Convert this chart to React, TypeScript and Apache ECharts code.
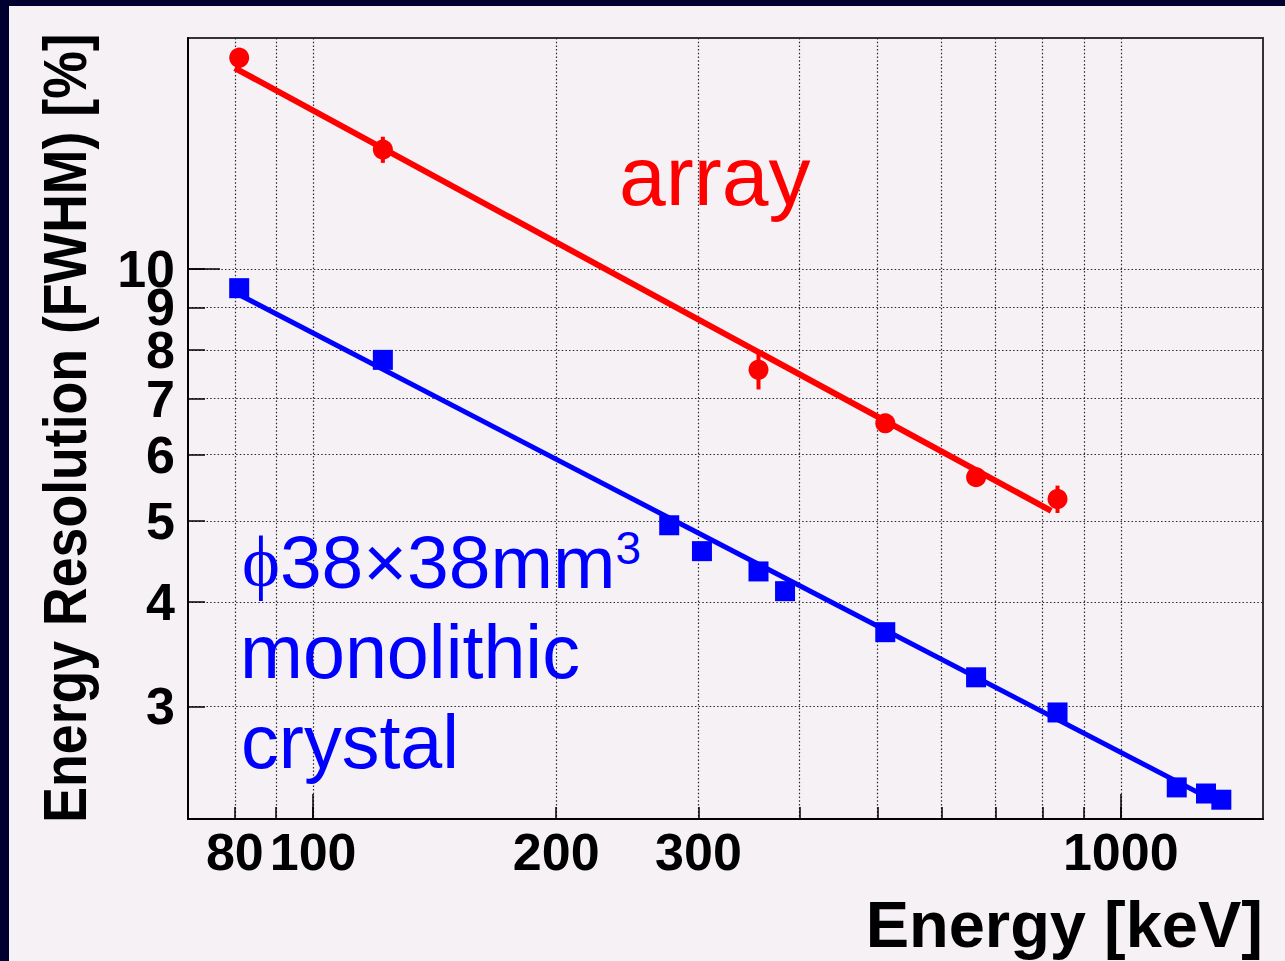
import React, { useEffect, useRef } from "react";
import * as echarts from "echarts";

// Measured energy resolution of the pixelated array (red circles, with errors)
const arrayEnergy = [81, 122, 356, 511, 662, 835];
const arrayResolution = [17.9, 13.9, 7.58, 6.54, 5.64, 5.31];
const arrayError = [0.5, 0.5, 0.4, 0.15, 0.12, 0.2];

// Measured energy resolution of the monolithic crystal (blue squares)
const crystalEnergy = [81, 122, 276, 303, 356, 384, 511, 662, 835, 1173, 1275, 1332];
const crystalResolution = [9.49, 7.79, 4.94, 4.6, 4.35, 4.12, 3.68, 3.25, 2.95, 2.4, 2.36, 2.32];

// Power-law fit curves (end points; straight on log-log axes)
const arrayFitEnergy = [80, 820];
const arrayFitResolution = [17.4, 5.14];
const crystalFitEnergy = [80, 1275];
const crystalFitResolution = [9.38, 2.34];

// Axis ranges and tick positions
const energyRange = [70, 1500];
const resolutionRange = [2.2, 18.9];
const energyTicks = [80, 90, 100, 200, 300, 400, 500, 600, 700, 800, 900, 1000];
const energyMajorTicks = [100, 1000];
const energyLabels = [80, 100, 200, 300, 1000];
const resolutionTicks = [3, 4, 5, 6, 7, 8, 9, 10];
const resolutionMajorTicks = [10];
// "9" sits on the second (major-tick) axis so the crowded 8/9/10 labels all stay visible
const resolutionLabels = [3, 4, 5, 6, 7, 8, 10];
const resolutionExtraLabels = [9];

const RED = "#ff0000";
const BLUE = "#0000ff";
const BG = "#f5f1f5";
const FRAME = "#000030";
const SANS = "'Liberation Sans', Arial, Helvetica, sans-serif";
const SERIF = "'Liberation Serif', 'Times New Roman', serif";

const lg = (v: number) => Math.log10(v);
const pairs = (xs: number[], ys: number[]) => xs.map((x, i) => [lg(x), lg(ys[i])]);
const fmt = (v: number) => String(Math.round(Math.pow(10, v)));

export default function App() {
  const ref = useRef<HTMLDivElement>(null);

  useEffect(() => {
    if (!ref.current) return;
    const chart = echarts.init(ref.current, undefined, { renderer: "svg" });

    const gridLine = { show: true, lineStyle: { color: "#2a2a2a", width: 1.2, type: [1.5, 2.2] as any } };
    const tickLabel = {
      color: "#000",
      fontFamily: SANS,
      fontWeight: "bold" as const,
      fontSize: 52,
      lineHeight: 36,
      formatter: fmt,
    };

    const option: any = {
      animation: false,
      backgroundColor: BG,
      grid: {
        left: 188,
        top: 38,
        width: 1075,
        height: 781,
        show: true,
        borderColor: "#333",
        borderWidth: 2,
        backgroundColor: "transparent",
        containLabel: false,
        outerBoundsMode: "none",
      },
      xAxis: [
        {
          type: "value",
          position: "bottom",
          min: lg(energyRange[0]),
          max: lg(energyRange[1]),
          axisLine: { show: true, onZero: false, lineStyle: { color: "#000", width: 2 } },
          axisTick: {
            show: true,
            inside: true,
            length: 12,
            customValues: energyTicks.map(lg),
            lineStyle: { color: "#000", width: 1.5 },
          },
          axisLabel: { ...tickLabel, margin: 15, customValues: energyLabels.map(lg) },
          splitLine: gridLine,
        },
        {
          type: "value",
          position: "bottom",
          min: lg(energyRange[0]),
          max: lg(energyRange[1]),
          axisLine: { show: false },
          axisTick: {
            show: true,
            inside: true,
            length: 25,
            customValues: energyMajorTicks.map(lg),
            lineStyle: { color: "#000", width: 1.5 },
          },
          axisLabel: { show: false },
          splitLine: { show: false },
        },
      ],
      yAxis: [
        {
          type: "value",
          position: "left",
          min: lg(resolutionRange[0]),
          max: lg(resolutionRange[1]),
          axisLine: { show: true, onZero: false, lineStyle: { color: "#000", width: 2 } },
          axisTick: {
            show: true,
            inside: true,
            length: 17,
            customValues: resolutionTicks.map(lg),
            lineStyle: { color: "#000", width: 1.5 },
          },
          axisLabel: { ...tickLabel, margin: 13, customValues: resolutionLabels.map(lg) },
          splitLine: gridLine,
        },
        {
          type: "value",
          position: "left",
          min: lg(resolutionRange[0]),
          max: lg(resolutionRange[1]),
          axisLine: { show: false },
          axisTick: {
            show: true,
            inside: true,
            length: 32,
            customValues: resolutionMajorTicks.map(lg),
            lineStyle: { color: "#000", width: 1.5 },
          },
          axisLabel: { ...tickLabel, margin: 13, customValues: resolutionExtraLabels.map(lg) },
          splitLine: { show: false },
        },
      ],
      series: [
        {
          name: "array fit",
          type: "line",
          data: pairs(arrayFitEnergy, arrayFitResolution),
          showSymbol: false,
          lineStyle: { color: RED, width: 6 },
          z: 3,
        },
        {
          name: "crystal fit",
          type: "line",
          data: pairs(crystalFitEnergy, crystalFitResolution),
          showSymbol: false,
          lineStyle: { color: BLUE, width: 5 },
          z: 3,
        },
        {
          name: "array errors",
          type: "custom",
          data: arrayEnergy.map((e, i) => [
            lg(e),
            lg(arrayResolution[i] - arrayError[i]),
            lg(arrayResolution[i] + arrayError[i]),
          ]),
          renderItem: (_p: any, api: any) => {
            const lo = api.coord([api.value(0), api.value(1)]);
            const hi = api.coord([api.value(0), api.value(2)]);
            return {
              type: "line",
              shape: { x1: lo[0], y1: lo[1], x2: hi[0], y2: hi[1] },
              style: { stroke: RED, lineWidth: 4 },
            };
          },
          z: 4,
        },
        {
          name: "array",
          type: "scatter",
          data: pairs(arrayEnergy, arrayResolution),
          symbol: "circle",
          symbolSize: 20,
          itemStyle: { color: RED, opacity: 1 },
          z: 5,
        },
        {
          name: "monolithic crystal",
          type: "scatter",
          data: pairs(crystalEnergy, crystalResolution),
          symbol: "rect",
          symbolSize: 20,
          itemStyle: { color: BLUE, opacity: 1 },
          z: 5,
        },
      ],
      graphic: [
        { type: "rect", shape: { x: 0, y: 0, width: 1285, height: 6 }, style: { fill: FRAME }, z: 10 },
        { type: "rect", shape: { x: 0, y: 0, width: 9, height: 961 }, style: { fill: FRAME }, z: 10 },
        {
          type: "text",
          x: 1263,
          y: 924,
          style: {
            text: "Energy [keV]",
            fill: "#000",
            font: `bold 65px ${SANS}`,
            align: "right",
            verticalAlign: "middle",
          },
          z: 10,
        },
        {
          type: "text",
          x: 65,
          y: 428,
          rotation: Math.PI / 2,
          scaleX: 0.865,
          style: {
            text: "Energy Resolution (FWHM) [%]",
            fill: "#000",
            font: `bold 62px ${SANS}`,
            align: "center",
            verticalAlign: "middle",
          },
          z: 10,
        },
        {
          type: "text",
          x: 619,
          y: 176,
          style: { text: "array", fill: RED, font: `84px ${SANS}`, align: "left", verticalAlign: "middle" },
          z: 10,
        },
        {
          type: "text",
          x: 242,
          y: 562,
          style: {
            text: "{phi|ϕ}{big|38×38mm}{sup|3}",
            fill: BLUE,
            align: "left",
            verticalAlign: "middle",
            rich: {
              phi: { fontFamily: SERIF, fontSize: 72, lineHeight: 75, fill: BLUE },
              big: { fontFamily: SANS, fontSize: 75, lineHeight: 75, fill: BLUE },
              sup: { fontFamily: SANS, fontSize: 46, lineHeight: 55, verticalAlign: "top", fill: BLUE },
            },
          },
          z: 10,
        },
        {
          type: "text",
          x: 240,
          y: 652,
          style: { text: "monolithic", fill: BLUE, font: `75.5px ${SANS}`, align: "left", verticalAlign: "middle" },
          z: 10,
        },
        {
          type: "text",
          x: 241,
          y: 742,
          style: { text: "crystal", fill: BLUE, font: `75.5px ${SANS}`, align: "left", verticalAlign: "middle" },
          z: 10,
        },
      ],
    };

    chart.setOption(option);
    return () => chart.dispose();
  }, []);

  return (
    <div
      ref={ref}
      style={{ position: "absolute", left: 0, top: 0, width: 1285, height: 961 }}
    />
  );
}
